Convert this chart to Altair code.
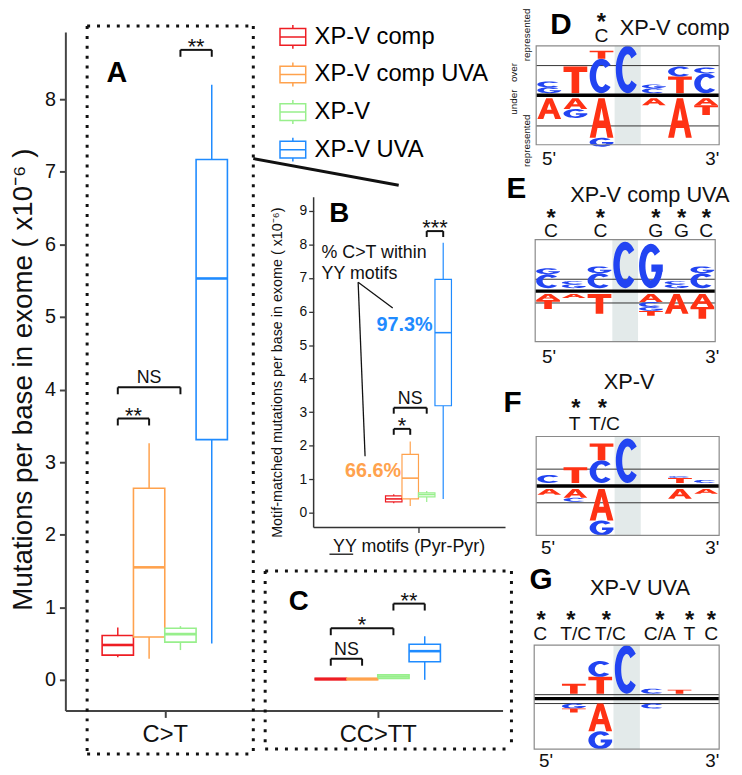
import math
import altair as alt
import pandas as pd

FONT = "Liberation Sans"

# ------------------------------------------------------------------ data
SERIES = ["XP-V comp", "XP-V comp UVA", "XP-V", "XP-V UVA"]
COLORS = ["#ee1d23", "#ffa24d", "#98ef8c", "#1f8bff"]
GROUPS = ["C>T", "CC>TT"]

# panel A / C : mutations per base in exome (x10^-6); rows = groups, cols = series
A_WLO = [[0.31, 0.29, 0.41, 0.50], [0.00, 0.00, 0.02, 0.00]]
A_Q1 = [[0.34, 0.59, 0.52, 3.31], [0.00, 0.00, 0.02, 0.25]]
A_MED = [[0.48, 1.55, 0.63, 5.53], [0.01, 0.01, 0.045, 0.395]]
A_Q3 = [[0.61, 2.64, 0.71, 7.17], [0.02, 0.02, 0.07, 0.49]]
A_WHI = [[0.72, 3.26, 0.74, 8.20], [0.02, 0.02, 0.07, 0.60]]

# panel B : motif-matched mutations (YY motifs)
B_WLO = [0.28, 0.20, 0.32, 0.41]
B_Q1 = [0.32, 0.41, 0.47, 3.19]
B_MED = [0.41, 1.03, 0.54, 5.37]
B_Q3 = [0.50, 1.74, 0.59, 6.96]
B_WHI = [0.55, 2.12, 0.65, 8.05]
B_PCT = ["66.6%", "97.3%"]
B_PCT_SERIES = [1, 3]

# significance brackets
A_SIG_GROUP = [0, 0, 0, 1, 1, 1]
A_SIG_FROM = [0, 0, 2, 0, 0, 2]
A_SIG_TO = [1, 2, 3, 1, 2, 3]
A_SIG_Y = [3.60, 4.03, 8.68, 0.29, 0.71, 1.05]
A_SIG_TEXT = ["**", "NS", "**", "NS", "*", "**"]
B_SIG_FROM = [0, 0, 2]
B_SIG_TO = [1, 2, 3]
B_SIG_Y = [2.50, 3.13, 8.40]
B_SIG_TEXT = ["*", "NS", "***"]

# sequence logos (7 positions, mutated C at position 4); heights of stacked letters
LOGO_PANELS = ["D", "E", "F", "G"]
LOGO_TITLES = ["XP-V comp", "XP-V comp UVA", "XP-V", "XP-V UVA"]
D_OVER = [[("G", 6), ("C", 6)], [("T", 27)], [("C", 35), ("T", 8)], [("C", 48)],
          [("C", 5), ("G", 4)], [("T", 17), ("C", 10)], [("C", 20), ("C", 6)]]
D_UNDER = [[("A", 21)], [("A", 11), ("G", 9)], [("A", 40), ("G", 9)], [],
           [("A", 7)], [("A", 40)], [("A", 7), ("T", 10)]]
E_OVER = [[("C", 14), ("G", 6)], [("G", 4), ("C", 3)], [("C", 15), ("G", 7)], [("C", 47)],
          [("G", 45)], [("G", 4), ("C", 3)], [("C", 15), ("G", 7)]]
E_UNDER = [[("A", 6), ("T", 9)], [("A", 4)], [("T", 20)], [],
           [("A", 8), ("C", 5), ("G", 4), ("T", 5)], [("A", 20)], [("A", 13), ("T", 12)]]
F_OVER = [[("C", 8)], [("T", 16)], [("C", 23), ("T", 17)], [("C", 45)], [],
          [("T", 5), ("C", 2)], [("C", 3)]]
F_UNDER = [[("A", 6)], [("A", 9), ("C", 4)], [("A", 32), ("G", 15)], [], [],
           [("A", 10)], [("A", 5)]]
G_OVER = [[], [("T", 10)], [("T", 17), ("C", 16)], [("C", 49)], [("C", 5)], [("T", 4)], []]
G_UNDER = [[], [("G", 5), ("T", 4)], [("A", 28), ("G", 18)], [], [("C", 5)], [], []]
LOGO_OVER = [D_OVER, E_OVER, F_OVER, G_OVER]
LOGO_UNDER = [D_UNDER, E_UNDER, F_UNDER, G_UNDER]
LOGO_SIG = [["C"], ["C", "C", "G", "G", "C"], ["T", "T/C"],
            ["C", "T/C", "T/C", "C/A", "T", "C"]]
LETTER_COLORS = {"A": "#ff3214", "T": "#ff3214", "C": "#2244f2", "G": "#2244f2"}

# ------------------------------------------------------------------ layout (page px)
W, H = 442, 686
OX, OY = 66, 28


def lin(p1, v1, p2, v2):
    s = (v2 - v1) / (p2 - p1)
    return lambda p: v1 + (p - p1) * s


A_X = lin(119, 1.0, 214, 4.0)
A_Y = lin(683, 0.0, 96, 8.0)
B_X = lin(398, 1.0, 448, 4.0)
B_Y = lin(514, 0.0, 209, 9.0)
A_GROUP_X = [2.5, 9.3]
A_UPX = 8.0 / (683 - 96)
B_UPX = 9.0 / (514 - 209)

LOGO_BOX = [(542, 42, 727, 142), (541, 238, 723, 341), (542, 437, 727, 537), (540, 648, 727, 753)]
LOGO_MID = [92, 290, 487, 702]
LOGO_THIN = [(62, 123), (278, 302), (470, 504), (698, 707)]
LOGO_GAP = [(2, 3), (3, 3), (3, 3), (5, 5)]
LETTER_W = 24
LOGO_PANEL_POS = [(567, 30), (522, 196), (518, 412), (547, 591)]
LOGO_TITLE_POS = [(682, 31), (657, 200), (636, 389), (647, 597)]
LOGO_SIG_X = [[608], [557, 607, 663, 689, 714], [581, 611], [546, 582, 617, 667, 697, 719]]
LOGO_STAR_X = [[608], [557, 607, 663, 689, 714], [582, 609], [547, 577, 613, 667, 697, 719]]
LOGO_STAR_Y = [12, 210, 402, 617]
LOGO_SIG_BASE = [38, 235, 430, 643]
LOGO_53 = [(555, 720, 163), (555, 720, 363), (554, 720, 556), (552, 720, 771)]

BOX_SYMBOL = "M-1,-0.65L1,-0.65L1,0.65L-1,0.65Z M-1,0L1,0 M0,-0.65L0,-0.93 M0,0.65L0,0.93"

# ------------------------------------------------------------------ tables
rows = []
for g in range(2):
    for i in range(4):
        xc = A_GROUP_X[g] + i - 1.5
        rows.append(dict(series=SERIES[i], xc=xc, xl=xc - 0.5, xr=xc + 0.5,
                         wlo=A_WLO[g][i], q1=A_Q1[g][i], med=A_MED[g][i],
                         q3=A_Q3[g][i], whi=A_WHI[g][i]))
df_a = pd.DataFrame(rows)

df_b = pd.DataFrame(dict(series=SERIES, xc=[1, 2, 3, 4], xl=[0.5, 1.5, 2.5, 3.5],
                         xr=[1.5, 2.5, 3.5, 4.5], wlo=B_WLO, q1=B_Q1, med=B_MED,
                         q3=B_Q3, whi=B_WHI))


def sig_table(xs_from, xs_to, ys, texts, upx, tick_px):
    out = []
    for x1, x2, y, t in zip(xs_from, xs_to, ys, texts):
        star = "*" in t
        fs = 22 if star else 18
        # star glyph centre ~8.5 px above the bracket; "NS" baseline 4 px above
        base = y + 8.5 * upx - 0.575 * fs * upx if star else y + 4 * upx
        out.append(dict(x1=x1, x2=x2, xm=(x1 + x2) / 2, y=y, yt=y - tick_px * upx,
                        ty=base, text=t, size=fs))
    return pd.DataFrame(out)


a_from = [A_GROUP_X[g] + i - 1.5 for g, i in zip(A_SIG_GROUP, A_SIG_FROM)]
a_to = [A_GROUP_X[g] + i - 1.5 for g, i in zip(A_SIG_GROUP, A_SIG_TO)]
df_asig = sig_table(a_from, a_to, A_SIG_Y, A_SIG_TEXT, A_UPX, 7)
df_bsig = sig_table([i + 1 for i in B_SIG_FROM], [i + 1 for i in B_SIG_TO],
                    B_SIG_Y, B_SIG_TEXT, B_UPX, 6)

# ------------------------------------------------------------------ glyphs for logos


def _poly(pts):
    return "M" + "L".join(f"{x:.2f},{y:.2f}" for x, y in pts) + "Z"


def glyph_path(letter, w, h):
    if letter == "T":
        pts = [(-0.5, -0.5), (0.5, -0.5), (0.5, -0.3), (0.16, -0.3), (0.16, 0.5),
               (-0.16, 0.5), (-0.16, -0.3), (-0.5, -0.3)]
        return _poly([(x * w, y * h) for x, y in pts])
    if letter == "A":
        outer = [(-0.5, 0.5), (-0.13, -0.5), (0.13, -0.5), (0.5, 0.5), (0.25, 0.5),
                 (0.17, 0.25), (-0.17, 0.25), (-0.25, 0.5)]
        hole = [(-0.1, 0.06), (0.1, 0.06), (0.0, -0.26)]
        return _poly([(x * w, y * h) for x, y in outer]) + _poly([(x * w, y * h) for x, y in hole])
    rx, ry = w / 2, h / 2
    rxi, ryi = rx - 0.27 * w, ry - 0.18 * h
    ao, ai = math.radians(40), math.radians(46)
    ox, oy = rx * math.cos(ao), ry * math.sin(ao)
    ix, iy = rxi * math.cos(ai), ryi * math.sin(ai)
    if letter == "C":
        return (f"M{ox:.2f},{-oy:.2f}A{rx:.2f},{ry:.2f} 0 1 0 {ox:.2f},{oy:.2f}"
                f"L{ix:.2f},{iy:.2f}A{rxi:.2f},{ryi:.2f} 0 1 1 {ix:.2f},{-iy:.2f}Z")
    ring = (f"M{ox:.2f},{-oy:.2f}A{rx:.2f},{ry:.2f} 0 1 0 {rx:.2f},0"
            f"L{rxi:.2f},0A{rxi:.2f},{ryi:.2f} 0 1 1 {ix:.2f},{-iy:.2f}Z")
    bar = [(0.02 * w, -0.03 * h), (0.02 * w, 0.13 * h), (0.5 * w, 0.13 * h), (0.5 * w, -0.03 * h)]
    return ring + _poly(bar)


letters, gray, thin, thick, frames = [], [], [], [], []
for L in range(4):
    bx0, by0, bx1, by1 = LOGO_BOX[L]
    cw = (bx1 - bx0) / 7
    mid = LOGO_MID[L]
    go, gu = LOGO_GAP[L]
    gray.append(dict(x=bx0 + 3 * cw, x2=bx0 + 4 * cw, y=by0, y2=by1))
    frames.append(dict(x=bx0, x2=bx1, y=by0, y2=by1))
    thick.append(dict(x=bx0, x2=bx1, y=mid))
    for t in LOGO_THIN[L]:
        thin.append(dict(x=bx0, x2=bx1, y=t))
    for c in range(7):
        xc = bx0 + (c + 0.5) * cw
        base = go
        for letter, hgt in LOGO_OVER[L][c]:
            letters.append(dict(x=xc, y=mid - base - hgt / 2, path=glyph_path(letter, LETTER_W, hgt),
                                color=LETTER_COLORS[letter]))
            base += hgt
        base = gu
        for letter, hgt in LOGO_UNDER[L][c]:
            letters.append(dict(x=xc, y=mid + base + hgt / 2, path=glyph_path(letter, LETTER_W, hgt),
                                color=LETTER_COLORS[letter]))
            base += hgt
df_letters = pd.DataFrame(letters)

bold_txt = [dict(x=118, y=79, text="A", size=29, color="black"),
            dict(x=343, y=220, text="B", size=28, color="black"),
            dict(x=302, y=612, text="C", size=28, color="black")]
for L in range(4):
    bold_txt.append(dict(x=LOGO_PANEL_POS[L][0], y=LOGO_PANEL_POS[L][1], text=LOGO_PANELS[L],
                         size=30, color="black"))
bold_txt.append(dict(x=377, y=478, text=B_PCT[0], size=20, color=COLORS[B_PCT_SERIES[0]]))
bold_txt.append(dict(x=409, y=330, text=B_PCT[1], size=20, color=COLORS[B_PCT_SERIES[1]]))
STAR_FS = 24
for L in range(4):
    for xs in LOGO_STAR_X[L]:
        bold_txt.append(dict(x=xs, y=LOGO_STAR_Y[L] + 0.575 * STAR_FS, text="*", size=STAR_FS,
                             color="#111"))
df_bold = pd.DataFrame(bold_txt)

norm_txt = []
for L in range(4):
    norm_txt.append(dict(x=LOGO_TITLE_POS[L][0], y=LOGO_TITLE_POS[L][1], text=LOGO_TITLES[L], size=22))
    for xs, t in zip(LOGO_SIG_X[L], LOGO_SIG[L]):
        norm_txt.append(dict(x=xs, y=LOGO_SIG_BASE[L], text=t, size=19.5))
    x5, x3, yb = LOGO_53[L]
    norm_txt.append(dict(x=x5, y=yb, text="5'", size=19))
    norm_txt.append(dict(x=x3, y=yb, text="3'", size=19))
df_norm = pd.DataFrame(norm_txt)

df_left = pd.DataFrame([dict(x=325, y=257, text="% C>T within", size=18),
                        dict(x=325, y=278, text="YY motifs", size=18)])
df_rot = pd.DataFrame([dict(x=520, y=69, text="over", size=10),
                       dict(x=533, y=31, text="represented", size=10),
                       dict(x=520, y=99, text="under", size=10),
                       dict(x=533, y=138, text="represented", size=10)])

dotted = pd.DataFrame([dict(x=88, y=22, x2=256, y2=22), dict(x=88, y=22, x2=88, y2=758),
                       dict(x=256, y=22, x2=256, y2=758), dict(x=88, y=758, x2=256, y2=758),
                       dict(x=268, y=573, x2=517, y2=573), dict(x=268, y=573, x2=268, y2=753),
                       dict(x=517, y=573, x2=517, y2=753), dict(x=268, y=753, x2=517, y2=753)])
connector = pd.DataFrame([dict(x=256, y=156, x2=403, y2=183)])
note_lines = pd.DataFrame([dict(x=362, y=281, x2=397, y2=307), dict(x=362, y=281, x2=369, y2=457),
                           dict(x=333, y=556, x2=357, y2=556)])

# ------------------------------------------------------------------ chart
cscale = alt.Scale(domain=SERIES, range=COLORS)
legend = alt.Legend(title=None, orient="none", legendX=216, legendY=-9, symbolType=BOX_SYMBOL,
                    symbolSize=676, symbolStrokeWidth=1.5, symbolFillColor="white",
                    labelFontSize=24, labelFont=FONT, labelColor="black", labelOffset=8,
                    rowPadding=6, padding=0, labelLimit=400)
STROKE = alt.Stroke("series:N", scale=cscale, legend=legend)

AXS = alt.Scale(domain=[A_X(OX), A_X(OX + W)], nice=False, zero=False)
AYS = alt.Scale(domain=[A_Y(OY + H), A_Y(OY)], nice=False, zero=False)
ax_x = alt.Axis(values=A_GROUP_X, title=None, grid=False,
                labelExpr=f"datum.value < 6 ? '{GROUPS[0]}' : '{GROUPS[1]}'",
                labelFontSize=24, labelFont=FONT, labelColor="#111", labelPadding=5,
                domainColor="#444", domainWidth=2, tickColor="#444", tickWidth=2, tickSize=7)
ax_y = alt.Axis(values=list(range(9)), grid=False, title="Mutations per base in exome ( x10⁻⁶ )",
                titleFontSize=28, titleFont=FONT, titleFontWeight="normal", titleColor="#111",
                titleX=24 - OX, titleY=379 - OY, titleAngle=270, titleAlign="center",
                titleBaseline="middle", labelFontSize=20, labelFont=FONT, labelColor="#111",
                labelPadding=4, domainColor="#444", domainWidth=2, tickColor="#444",
                tickWidth=2, tickSize=6)


def AX(f):
    return alt.X(f, type="quantitative", scale=AXS, axis=ax_x)


def AY(f):
    return alt.Y(f, type="quantitative", scale=AYS, axis=ax_y)


layer_a = alt.layer(
    alt.Chart(df_a).mark_rule(strokeWidth=1.5).encode(x=AX("xc"), y=AY("wlo"), y2="q1", stroke=STROKE),
    alt.Chart(df_a).mark_rule(strokeWidth=1.5).encode(x=AX("xc"), y=AY("q3"), y2="whi", stroke=STROKE),
    alt.Chart(df_a).mark_rect(fill="white", strokeWidth=1.6).encode(
        x=AX("xl"), x2="xr", y=AY("q1"), y2="q3", stroke=STROKE),
    alt.Chart(df_a).mark_rule(strokeWidth=2.6).encode(x=AX("xl"), x2="xr", y=AY("med"), stroke=STROKE),
    alt.Chart(df_asig).mark_rule(color="#111", strokeWidth=2).encode(x=AX("x1"), x2="x2", y=AY("y")),
    alt.Chart(df_asig).mark_rule(color="#111", strokeWidth=2).encode(x=AX("x1"), y=AY("y"), y2="yt"),
    alt.Chart(df_asig).mark_rule(color="#111", strokeWidth=2).encode(x=AX("x2"), y=AY("y"), y2="yt"),
    alt.Chart(df_asig).mark_text(font=FONT, color="#111", baseline="alphabetic").encode(
        x=AX("xm"), y=AY("ty"), text="text:N", size=alt.Size("size:Q", scale=None)),
)

BXS = alt.Scale(domain=[B_X(OX), B_X(OX + W)], nice=False, zero=False)
BYS = alt.Scale(domain=[B_Y(OY + H), B_Y(OY)], nice=False, zero=False)
bx_axis = alt.Axis(orient="bottom", offset=-(OY + H - 529), values=[2.5], labels=False, domain=False,
                   tickSize=5, tickColor="#333", tickWidth=1.3, grid=False,
                   title="YY motifs (Pyr-Pyr)", titleFontSize=18, titleFont=FONT,
                   titleFontWeight="normal", titleColor="#111", titleX=413 - OX, titleY=19,
                   titleAlign="center", titleBaseline="middle")
by_axis = alt.Axis(orient="left", offset=-(317 - OX), values=list(range(10)), domain=False,
                   tickSize=5, tickColor="#333", tickWidth=1.3, grid=False, labelFontSize=14,
                   labelFont=FONT, labelColor="#111", labelPadding=2,
                   title="Motif-matched mutations per base in exome ( x10⁻⁶)",
                   titleFontSize=14.5, titleFont=FONT, titleFontWeight="normal", titleColor="#111",
                   titleX=281 - 317, titleY=372 - OY, titleAngle=270, titleAlign="center",
                   titleBaseline="middle")


def BX(f):
    return alt.X(f, type="quantitative", scale=BXS, axis=bx_axis)


def BY(f):
    return alt.Y(f, type="quantitative", scale=BYS, axis=by_axis)


b_axis_v = pd.DataFrame([dict(x=B_X(317), y=B_Y(529), y2=B_Y(195))])
b_axis_h = pd.DataFrame([dict(x=B_X(317), x2=B_X(511), y=B_Y(529))])

layer_b = alt.layer(
    alt.Chart(df_b).mark_rule(strokeWidth=1.2).encode(x=BX("xc"), y=BY("wlo"), y2="q1", stroke=STROKE),
    alt.Chart(df_b).mark_rule(strokeWidth=1.2).encode(x=BX("xc"), y=BY("q3"), y2="whi", stroke=STROKE),
    alt.Chart(df_b).mark_rect(fill="white", strokeWidth=1.2).encode(
        x=BX("xl"), x2="xr", y=BY("q1"), y2="q3", stroke=STROKE),
    alt.Chart(df_b).mark_rule(strokeWidth=1.6).encode(x=BX("xl"), x2="xr", y=BY("med"), stroke=STROKE),
    alt.Chart(b_axis_v).mark_rule(color="#333", strokeWidth=1.5).encode(x=BX("x"), y=BY("y"), y2="y2"),
    alt.Chart(b_axis_h).mark_rule(color="#333", strokeWidth=1.5).encode(x=BX("x"), x2="x2", y=BY("y")),
    alt.Chart(df_bsig).mark_rule(color="#111", strokeWidth=2).encode(x=BX("x1"), x2="x2", y=BY("y")),
    alt.Chart(df_bsig).mark_rule(color="#111", strokeWidth=2).encode(x=BX("x1"), y=BY("y"), y2="yt"),
    alt.Chart(df_bsig).mark_rule(color="#111", strokeWidth=2).encode(x=BX("x2"), y=BY("y"), y2="yt"),
    alt.Chart(df_bsig).mark_text(font=FONT, color="#111", baseline="alphabetic").encode(
        x=BX("xm"), y=BY("ty"), text="text:N", size=alt.Size("size:Q", scale=None)),
)

PXS = alt.Scale(domain=[OX, OX + W], nice=False, zero=False)
PYS = alt.Scale(domain=[OY + H, OY], nice=False, zero=False)


def PX(f):
    return alt.X(f, type="quantitative", scale=PXS, axis=None)


def PY(f):
    return alt.Y(f, type="quantitative", scale=PYS, axis=None)


def ptext(df, **kw):
    enc = dict(x=PX("x"), y=PY("y"), text="text:N", size=alt.Size("size:Q", scale=None))
    if "color" in df.columns:
        enc["color"] = alt.Color("color:N", scale=None)
    return alt.Chart(df).mark_text(font=FONT, **kw).encode(**enc)


layer_p = alt.layer(
    alt.Chart(dotted).mark_rule(color="#111", strokeWidth=3, strokeDash=[3, 7], strokeCap="butt").encode(
        x=PX("x"), y=PY("y"), x2="x2", y2="y2"),
    alt.Chart(connector).mark_rule(color="#111", strokeWidth=3).encode(x=PX("x"), y=PY("y"), x2="x2", y2="y2"),
    alt.Chart(note_lines).mark_rule(color="#111", strokeWidth=1.3).encode(x=PX("x"), y=PY("y"), x2="x2", y2="y2"),
    alt.Chart(pd.DataFrame(gray)).mark_rect(color="#e3eaea").encode(x=PX("x"), x2="x2", y=PY("y"), y2="y2"),
    alt.Chart(pd.DataFrame(thin)).mark_rule(color="#333", strokeWidth=1).encode(x=PX("x"), x2="x2", y=PY("y")),
    alt.Chart(df_letters).mark_point(filled=True, opacity=1, strokeWidth=0).encode(
        x=PX("x"), y=PY("y"), shape=alt.Shape("path:N", scale=None), size=alt.value(4),
        color=alt.Color("color:N", scale=None)),
    alt.Chart(pd.DataFrame(thick)).mark_rule(color="#000", strokeWidth=3.5).encode(x=PX("x"), x2="x2", y=PY("y")),
    alt.Chart(pd.DataFrame(frames)).mark_rect(filled=False, stroke="#8a8a8a", strokeWidth=1.2).encode(
        x=PX("x"), x2="x2", y=PY("y"), y2="y2"),
    ptext(df_bold, fontWeight="bold", align="center", baseline="alphabetic"),
    ptext(df_norm, color="#111", align="center", baseline="alphabetic"),
    ptext(df_left, color="#111", align="left", baseline="alphabetic"),
    ptext(df_rot, color="#111", align="center", baseline="middle", angle=270),
)

chart = (
    alt.layer(layer_a, layer_b, layer_p)
    .resolve_scale(x="independent", y="independent")
    .properties(width=W, height=H, autosize=alt.AutoSizeParams(type="none"),
                padding={"left": OX - 8, "top": OY - 8, "right": 734 - (OX - 8) - W,
                         "bottom": 767 - (OY - 8) - H},
                background="white")
    .configure_view(stroke=None)
)

chart.save("out.html", embed_options={"renderer": "svg", "actions": False})
